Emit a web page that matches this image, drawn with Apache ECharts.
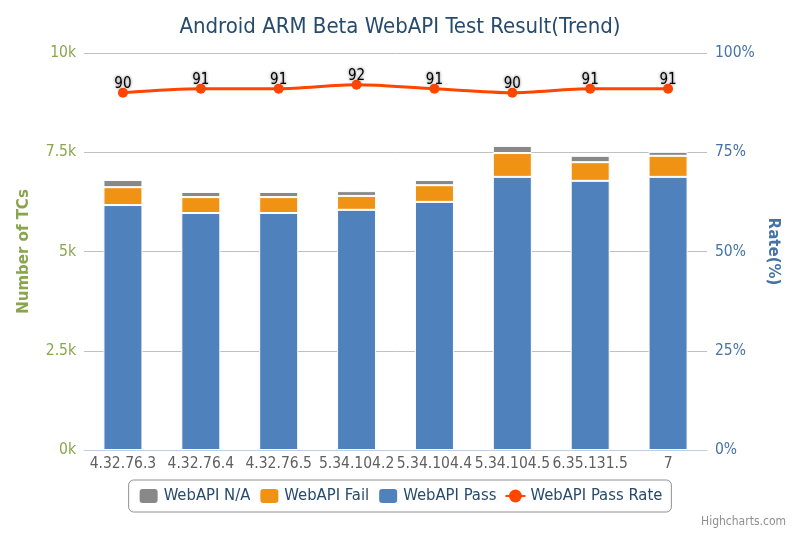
<!DOCTYPE html>
<html><head><meta charset="utf-8">
<script src="https://cdn.jsdelivr.net/npm/echarts@6/dist/echarts.min.js"></script>
<style>html,body{margin:0;padding:0;background:#fff}#c{width:800px;height:533px}</style>
</head><body><div id="c"></div>
<script>
const categories = ['4.32.76.3','4.32.76.4','4.32.76.5','5.34.104.2','5.34.104.4','5.34.104.5','6.35.131.5','7'];
const passValues = [6170, 5970, 5970, 6050, 6250, 6880, 6780, 6880];
const failValues = [450, 400, 400, 350, 420, 600, 470, 530];
const naValues = [180, 130, 130, 120, 130, 180, 160, 100];
const passRate = [90, 91, 91, 92, 91, 90, 91, 91];
const leftTicks = ['0k','2.5k','5k','7.5k','10k'];

const font = '"DejaVu Sans Condensed", "DejaVu Sans"';
const chart = echarts.init(document.getElementById('c'));
chart.setOption({
  animation: false,
  title: { text: 'Android ARM Beta WebAPI Test Result(Trend)', left: 'center', top: 11,
    textStyle: { fontFamily: font, fontSize: 22, fontWeight: 'normal', color: '#274b6d' } },
  grid: { left: 84, right: 93, top: 53, bottom: 83 },
  legend: {
    data: ['WebAPI N/A','WebAPI Fail','WebAPI Pass','WebAPI Pass Rate'],
    bottom: 21, left: 'center', itemGap: 8, itemWidth: 20, itemHeight: 16,
    borderColor: '#909090', borderWidth: 1, borderRadius: 5, padding: [7, 9],
    textStyle: { fontFamily: font, fontSize: 16.5, color: '#274b6d' }
  },
  graphic: [{ type: 'text', right: 14, bottom: 5, style: { text: 'Highcharts.com', fontFamily: font, fontSize: 12, fill: '#909090' } }],
  xAxis: {
    type: 'category', data: categories,
    axisLine: { lineStyle: { color: '#C0D0E0' } },
    axisTick: { lineStyle: { color: '#C0D0E0' }, length: 8 },
    axisLabel: { fontFamily: font, fontSize: 15.5, color: '#606060', interval: 0, margin: 6 }
  },
  yAxis: [{
    type: 'value', min: 0, max: 10000, interval: 2500,
    name: 'Number of TCs', nameLocation: 'middle', nameGap: 52,
    nameTextStyle: { fontFamily: '"DejaVu Sans"', fontSize: 15, fontWeight: 'bold', color: '#89A54E' },
    axisLabel: { fontFamily: font, fontSize: 15.5, color: '#89A54E', formatter: (v, i) => leftTicks[Math.round(v / 2500)] },
    splitLine: { lineStyle: { color: '#C0C0C0' } }, axisLine: { show: false }, axisTick: { show: false }
  }, {
    type: 'value', min: 0, max: 100, interval: 25,
    name: 'Rate(%)', nameLocation: 'middle', nameGap: 58, nameRotate: -90,
    nameTextStyle: { fontFamily: '"DejaVu Sans"', fontSize: 15, fontWeight: 'bold', color: '#4572A7' },
    axisLabel: { fontFamily: font, fontSize: 15.5, color: '#4572A7', formatter: '{value}%' },
    splitLine: { show: false }, axisLine: { show: false }, axisTick: { show: false }
  }],
  series: [
    { name: 'WebAPI Pass', type: 'bar', stack: 'tc', data: passValues, barWidth: 39,
      itemStyle: { color: '#4F81BD', borderColor: '#fff', borderWidth: 1 } },
    { name: 'WebAPI Fail', type: 'bar', stack: 'tc', data: failValues,
      itemStyle: { color: '#F09314', borderColor: '#fff', borderWidth: 1 } },
    { name: 'WebAPI N/A', type: 'bar', stack: 'tc', data: naValues,
      itemStyle: { color: '#888888', borderColor: '#fff', borderWidth: 1 } },
    { name: 'WebAPI Pass Rate', type: 'line', yAxisIndex: 1, data: passRate, smooth: 0.3,
      symbol: 'circle', symbolSize: 10,
      lineStyle: { color: '#FF4500', width: 3 }, itemStyle: { color: '#FF4500' },
      label: { show: true, position: 'top', distance: -4, fontFamily: font, fontSize: 15, fontWeight: 'normal', color: '#000',
        textShadowColor: 'rgba(0,0,0,0.6)', textShadowBlur: 3 } }
  ]
});
</script></body></html>
